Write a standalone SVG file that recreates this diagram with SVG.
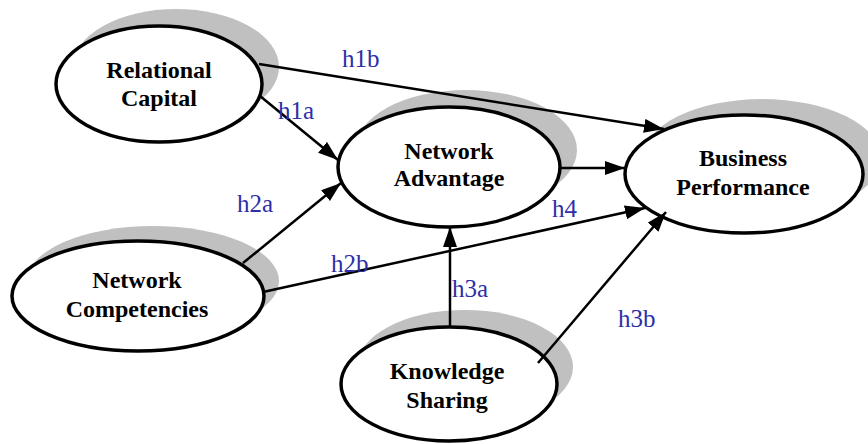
<svg xmlns="http://www.w3.org/2000/svg" width="868" height="444" viewBox="0 0 868 444">
<style>
.shadow{fill:#c0c0c0;stroke:none}
.node{fill:#ffffff;stroke:#000000;stroke-width:3.5}
.t{font-family:"Liberation Serif","Times New Roman",serif;font-weight:bold;font-size:24px;fill:#000000;text-anchor:middle}
.lbl{font-family:"Liberation Serif","Times New Roman",serif;font-size:25px;fill:#2e2ea8}
.c{stroke:#000000;stroke-width:2.5;fill:none;marker-end:url(#ah)}
</style>
<defs>
<marker id="ah" markerUnits="userSpaceOnUse" markerWidth="22" markerHeight="16" refX="20" refY="7" orient="auto">
<path d="M0,0 L20,7 L0,14 Z" fill="#000000"/>
</marker>
</defs>
<rect width="868" height="444" fill="#ffffff"/>
<g id="relational-capital">
<ellipse class="shadow" cx="176" cy="67" rx="103" ry="58"/>
<ellipse class="node" cx="159" cy="84" rx="103" ry="58"/>
<text class="t" x="159" y="78">Relational</text>
<text class="t" x="159" y="106">Capital</text>
</g>
<g id="network-advantage">
<ellipse class="shadow" cx="466" cy="150" rx="111" ry="60"/>
<ellipse class="node" cx="449" cy="167" rx="111" ry="60"/>
<text class="t" x="449" y="159">Network</text>
<text class="t" x="449" y="186">Advantage</text>
</g>
<g id="business-performance">
<ellipse class="shadow" cx="762" cy="158" rx="119" ry="59"/>
<ellipse class="node" cx="744" cy="174" rx="119" ry="59"/>
<text class="t" x="743" y="166">Business</text>
<text class="t" x="743" y="195">Performance</text>
</g>
<g id="network-competencies">
<ellipse class="shadow" cx="153" cy="281" rx="126" ry="55"/>
<ellipse class="node" cx="138" cy="296" rx="126" ry="55"/>
<text class="t" x="137" y="288">Network</text>
<text class="t" x="137" y="317">Competencies</text>
</g>
<g id="knowledge-sharing">
<ellipse class="shadow" cx="465" cy="367" rx="108" ry="57"/>
<ellipse class="node" cx="449" cy="384" rx="108" ry="57"/>
<text class="t" x="447" y="379">Knowledge</text>
<text class="t" x="447" y="408">Sharing</text>
</g>
<g id="connectors">
<line class="c" x1="259" y1="64" x2="664" y2="129"/>
<line class="c" x1="260" y1="96" x2="338" y2="160"/>
<line class="c" x1="243" y1="263" x2="341" y2="183"/>
<line class="c" x1="263" y1="292" x2="645" y2="208"/>
<line class="c" x1="560" y1="168" x2="625" y2="168"/>
<line class="c" x1="450" y1="327" x2="450" y2="227"/>
<line class="c" x1="538" y1="363" x2="666" y2="212"/>
</g>
<g id="labels">
<text class="lbl" x="342" y="67">h1b</text>
<text class="lbl" x="278" y="119">h1a</text>
<text class="lbl" x="237" y="212">h2a</text>
<text class="lbl" x="552" y="217">h4</text>
<text class="lbl" x="331" y="272">h2b</text>
<text class="lbl" x="452" y="297">h3a</text>
<text class="lbl" x="618" y="327">h3b</text>
</g>
</svg>
